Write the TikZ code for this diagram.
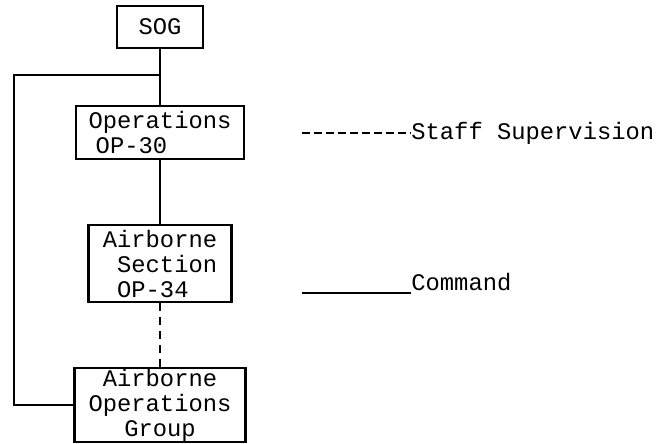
\documentclass[tikz,border=0pt]{standalone}
\usepackage{fontspec}
\setmonofont{Liberation Mono}
\usepackage{tikz}
\usetikzlibrary{positioning}

\begin{document}
\begin{tikzpicture}[x=0.5pt,y=-0.5pt,
  orgbox/.style={draw,line width=1.3pt,inner sep=0pt,font=\ttfamily\fontsize{11.9}{12.5}\selectfont},
  legtext/.style={inner sep=0pt,font=\ttfamily\fontsize{11.9}{12.5}\selectfont}]
\useasboundingbox (0,0) rectangle (660,444);
\node[orgbox,minimum width=43pt,minimum height=21pt] (sog) at (160,27) {SOG};
\node[orgbox,minimum width=84pt,minimum height=26.5pt,align=left] (ops) at (160,132.5)
  {Operations\\\hspace*{0.3em}OP-30};
\node[orgbox,minimum width=71.5pt,minimum height=38.5pt,align=left] (airsec) at (160,263.5)
  {Airborne\\\hspace*{0.6em}Section\\\hspace*{0.6em}OP-34};
\node[orgbox,minimum width=85.5pt,minimum height=37pt,align=center] (aog) at (160,405)
  {Airborne\\Operations\\Group};

% Add connectors
\coordinate (split) at (160,75);
\coordinate (loop) at (14,75);
\begin{scope}[line width=1.3pt]
\draw (sog) -- (ops);
\draw (ops) -- (airsec);
\draw[dash pattern=on 4pt off 3pt] (airsec) -- (aog);
\draw (split) -- (loop) |- (aog.west);
\end{scope}

% Add legend
\node[legtext,anchor=west] (staff) at (411,133) {Staff Supervision};
\node[legtext,anchor=base west] (cmd) at (411,291) {Command};
\coordinate (staffline) at (302,133);
\coordinate (cmdline) at (302,293);
\draw[line width=1.3pt,dash pattern=on 4pt off 2pt] (staffline) -- (staff.west);
\draw[line width=1.3pt] (cmdline) -- (cmd.base west |- cmdline);
\end{tikzpicture}
\end{document}
